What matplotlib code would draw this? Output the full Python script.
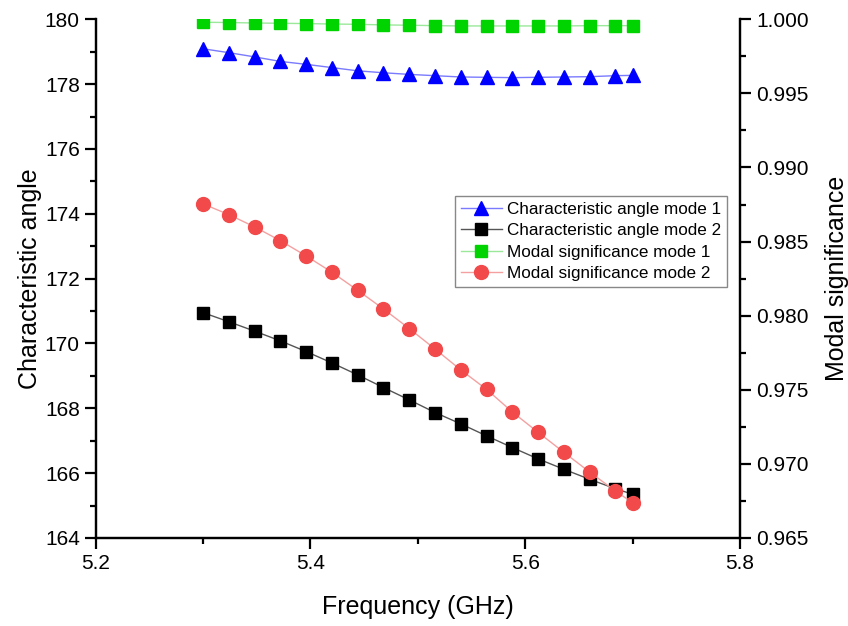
import numpy as np
import matplotlib
matplotlib.use('Agg')
import matplotlib.pyplot as plt
from matplotlib.ticker import MultipleLocator

plt.rcParams['font.family'] = ['Liberation Sans', 'DejaVu Sans']

# 频率点 (GHz)
freq = [5.300, 5.324, 5.348, 5.372, 5.396, 5.420, 5.444, 5.468, 5.492,
        5.516, 5.540, 5.564, 5.588, 5.612, 5.636, 5.660, 5.684, 5.700]

# 特征角 (左轴)
ca_mode1 = [179.09, 178.97, 178.84, 178.70, 178.61, 178.51, 178.41, 178.35, 178.30,
            178.26, 178.22, 178.21, 178.20, 178.21, 178.22, 178.23, 178.26, 178.27]
ca_mode2 = [170.95, 170.67, 170.38, 170.08, 169.75, 169.40, 169.03, 168.64, 168.26,
            167.87, 167.52, 167.15, 166.79, 166.44, 166.12, 165.81, 165.52, 165.35]

# 模式显著性 (右轴)
ms_mode1 = [0.99980, 0.99978, 0.99975, 0.99973, 0.99971, 0.99968, 0.99966, 0.99962, 0.99960,
            0.99957, 0.99955, 0.99955, 0.99955, 0.99955, 0.99955, 0.99957, 0.99957, 0.99957]
ms_mode2 = [0.98754, 0.98682, 0.98599, 0.98506, 0.98403, 0.98293, 0.98171, 0.98045, 0.97913,
            0.97775, 0.97634, 0.97503, 0.97350, 0.97213, 0.97078, 0.96945, 0.96817, 0.96738]

fig = plt.figure(figsize=(8.48, 6.26), dpi=100)
ax = fig.add_axes([0.1129, 0.1406, 0.7597, 0.8286])
ax2 = ax.twinx()

l1, = ax.plot(freq, ca_mode1, color='#7a7aff', lw=1.0, marker='^', ms=10,
              mfc='#0000ff', mec='#0000ff', label='Characteristic angle mode 1')
l2, = ax.plot(freq, ca_mode2, color='#555555', lw=1.0, marker='s', ms=8.5,
              mfc='black', mec='black', label='Characteristic angle mode 2')
l3, = ax2.plot(freq, ms_mode1, color='#9be89b', lw=1.0, marker='s', ms=8.5,
               mfc='#00d400', mec='#00d400', label='Modal significance mode 1')
l4, = ax2.plot(freq, ms_mode2, color='#f5a0a0', lw=1.0, marker='o', ms=10,
               mfc='#f24a4a', mec='#f24a4a', label='Modal significance mode 2')

ax.set_xlim(5.2, 5.8)
ax.set_ylim(164, 180)
ax2.set_ylim(0.965, 1.000)

ax.xaxis.set_major_locator(MultipleLocator(0.2))
ax.xaxis.set_minor_locator(MultipleLocator(0.1))
ax.yaxis.set_major_locator(MultipleLocator(2))
ax.yaxis.set_minor_locator(MultipleLocator(1))
ax2.yaxis.set_major_locator(MultipleLocator(0.005))
ax2.yaxis.set_minor_locator(MultipleLocator(0.0025))
ax.xaxis.set_major_formatter(plt.FuncFormatter(lambda v, p: f'{v:.1f}'))
ax.yaxis.set_major_formatter(plt.FuncFormatter(lambda v, p: f'{v:.0f}'))
ax2.yaxis.set_major_formatter(plt.FuncFormatter(lambda v, p: f'{v:.3f}'))

for a in (ax, ax2):
    a.spines['top'].set_visible(False)
    for s in a.spines.values():
        s.set_linewidth(1.6)
    a.tick_params(which='major', direction='out', length=8, width=1.6, labelsize=15)
    a.tick_params(which='minor', direction='out', length=4, width=1.6)

ax.set_xlabel('Frequency (GHz)', fontsize=18, labelpad=16)
ax.set_ylabel('Characteristic angle', fontsize=18, labelpad=2)
ax2.set_ylabel('Modal significance', fontsize=18, labelpad=12)

leg = ax2.legend(handles=[l1, l2, l3, l4], loc='upper left',
                 bbox_to_anchor=(0.557, 0.66), fontsize=12.3, fancybox=False,
                 edgecolor='#888888', framealpha=1, handlelength=2.4,
                 handletextpad=0.3, borderpad=0.35, labelspacing=0.38,
                 borderaxespad=0)
leg.get_frame().set_linewidth(1.0)

plt.savefig('out.png', dpi=100)
plt.close()
